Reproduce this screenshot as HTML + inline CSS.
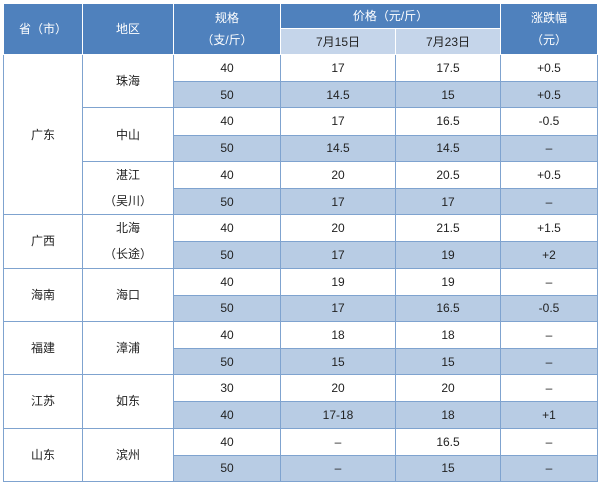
<!DOCTYPE html>
<html><head><meta charset="utf-8"><style>
body{margin:0;background:#fff;width:600px;height:484px;overflow:hidden}
table{position:absolute;left:3px;top:3px;border-collapse:collapse;table-layout:fixed;font-family:"Liberation Sans","Noto Sans CJK SC",sans-serif;font-size:12px;color:#222}
td{border:1px solid #7fa3cf;text-align:center;padding:0;line-height:14px}
.h td{background:#4f81bd;color:#fff;border-color:#fff}
.h td.s{background:#c5d5ea;color:#222;border-color:#fff}
tr.a td{height:26.2px}
tr.b td{height:25.2px}
tr.b td.v{background:#b8cce4}
td.w{background:#fff}
</style></head><body>
<table>
<colgroup><col style="width:79px"><col style="width:91px"><col style="width:107px"><col style="width:115px"><col style="width:105px"><col style="width:97px"></colgroup>
<tr class="h"><td rowspan="2" style="height:50px">省（市）</td><td rowspan="2">地区</td><td rowspan="2" style="line-height:22px">规格<br>（支/斤）</td><td colspan="2" style="height:24px">价格（元/斤）</td><td rowspan="2" style="line-height:22px">涨跌幅<br>（元）</td></tr>
<tr class="h"><td class="s" style="height:25px">7月15日</td><td class="s">7月23日</td></tr>

<tr class="a"><td rowspan="6" class="w">广东</td><td rowspan="2" class="w">珠海</td><td>40</td><td>17</td><td>17.5</td><td>+0.5</td></tr>
<tr class="b"><td class="v">50</td><td class="v">14.5</td><td class="v">15</td><td class="v">+0.5</td></tr>
<tr class="a"><td rowspan="2" class="w">中山</td><td>40</td><td>17</td><td>16.5</td><td>-0.5</td></tr>
<tr class="b"><td class="v">50</td><td class="v">14.5</td><td class="v">14.5</td><td class="v">–</td></tr>
<tr class="a"><td rowspan="2" class="w" style="line-height:26px">湛江<br>（吴川）</td><td>40</td><td>20</td><td>20.5</td><td>+0.5</td></tr>
<tr class="b"><td class="v">50</td><td class="v">17</td><td class="v">17</td><td class="v">–</td></tr>

<tr class="a"><td rowspan="2" class="w">广西</td><td rowspan="2" class="w" style="line-height:26px">北海<br>（长途）</td><td>40</td><td>20</td><td>21.5</td><td>+1.5</td></tr>
<tr class="b"><td class="v">50</td><td class="v">17</td><td class="v">19</td><td class="v">+2</td></tr>

<tr class="a"><td rowspan="2" class="w">海南</td><td rowspan="2" class="w">海口</td><td>40</td><td>19</td><td>19</td><td>–</td></tr>
<tr class="b"><td class="v">50</td><td class="v">17</td><td class="v">16.5</td><td class="v">-0.5</td></tr>

<tr class="a"><td rowspan="2" class="w">福建</td><td rowspan="2" class="w">漳浦</td><td>40</td><td>18</td><td>18</td><td>–</td></tr>
<tr class="b"><td class="v">50</td><td class="v">15</td><td class="v">15</td><td class="v">–</td></tr>

<tr class="a"><td rowspan="2" class="w">江苏</td><td rowspan="2" class="w">如东</td><td>30</td><td>20</td><td>20</td><td>–</td></tr>
<tr class="b"><td class="v">40</td><td class="v">17-18</td><td class="v">18</td><td class="v">+1</td></tr>

<tr class="a"><td rowspan="2" class="w">山东</td><td rowspan="2" class="w">滨州</td><td>40</td><td>–</td><td>16.5</td><td>–</td></tr>
<tr class="b"><td class="v">50</td><td class="v">–</td><td class="v">15</td><td class="v">–</td></tr>
</table>
</body></html>
